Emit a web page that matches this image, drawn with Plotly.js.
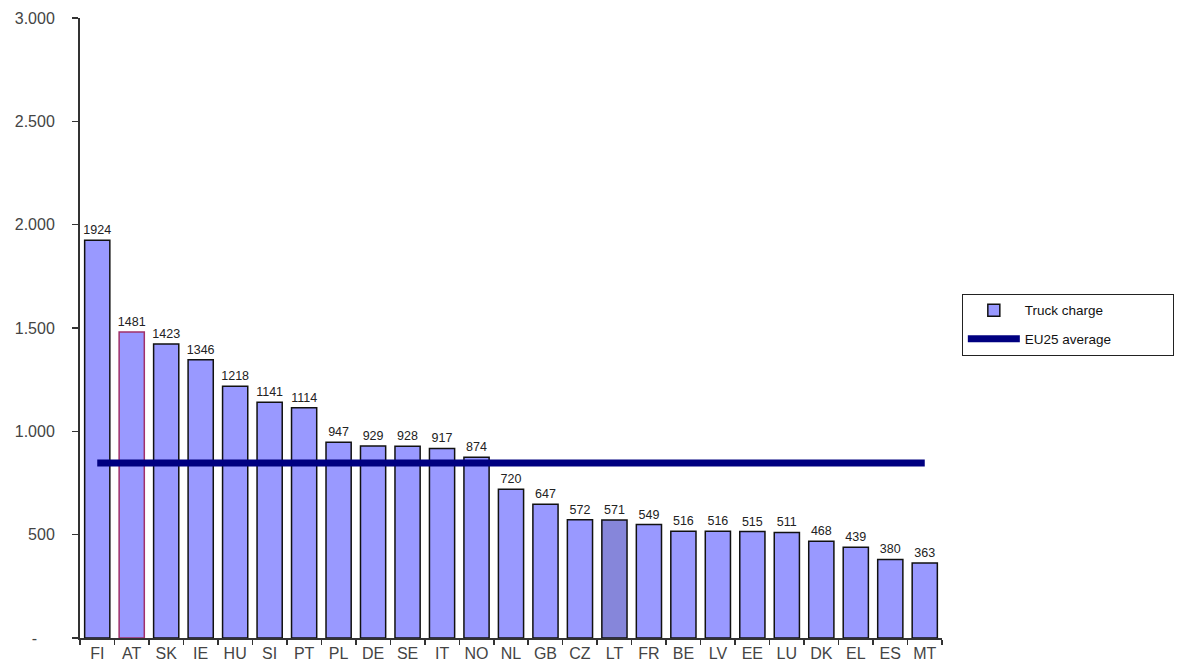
<!DOCTYPE html>
<html>
<head>
<meta charset="utf-8">
<script src="https://cdn.plot.ly/plotly-3.0.1.min.js"></script>
<style>
  html, body { margin: 0; padding: 0; background: #ffffff; }
  #chart { width: 1181px; height: 672px; }
</style>
</head>
<body>
<div id="chart"></div>
<script>
// Country codes, ordered by truck charge
const countries = ['FI','AT','SK','IE','HU','SI','PT','PL','DE','SE','IT','NO','NL',
                   'GB','CZ','LT','FR','BE','LV','EE','LU','DK','EL','ES','MT'];

// Truck charge per country
const truckCharge = [1924, 1481, 1423, 1346, 1218, 1141, 1114, 947, 929, 928, 917, 874, 720,
                     647, 572, 571, 549, 516, 516, 515, 511, 468, 439, 380, 363];

// EU25 average level
const eu25Average = 847;

// Y axis tick values
const yTicks = [0, 500, 1000, 1500, 2000, 2500, 3000];

// thousands separated with a dot, zero shown as a dash
function tickLabel(v) {
  if (v === 0) return '-\u00a0\u00a0\u00a0\u00a0';
  return String(v).replace(/\B(?=(\d{3})+(?!\d))/g, '.');
}

// trailing non-breaking spaces widen the legend box
const legendPad = '\u00a0'.repeat(15);

const fillColors = countries.map(c => c === 'LT' ? '#8686DA' : '#9999FF');
const lineColors = countries.map(c => c === 'AT' ? '#A0306A' : '#111111');

const bars = {
  type: 'bar',
  name: 'Truck charge' + legendPad,
  legendgroup: 'bars',
  x: countries,
  y: truckCharge,
  text: truckCharge.map(String),
  textposition: 'outside',
  constraintext: 'none',
  cliponaxis: false,
  textfont: { family: 'Liberation Sans, Arial, sans-serif', size: 12.5, color: '#222222' },
  marker: { color: fillColors, line: { color: lineColors, width: 1.5 } },
  hoverinfo: 'x+y'
};

const avgLine = {
  type: 'scatter',
  mode: 'lines',
  name: 'EU25 average' + legendPad,
  legendgroup: 'avg',
  x: [countries[0], countries[countries.length - 1]],
  y: [eu25Average, eu25Average],
  line: { color: '#000080', width: 7 },
  hoverinfo: 'y'
};

const layout = {
  width: 1181,
  height: 672,
  margin: { l: 80, r: 239, t: 18, b: 34, pad: 0, autoexpand: false },
  paper_bgcolor: '#ffffff',
  plot_bgcolor: '#ffffff',
  font: { family: 'Liberation Sans, Arial, sans-serif', color: '#333333' },
  bargap: 0.27,
  showlegend: true,
  legend: {
    x: 1.023, xanchor: 'left',
    y: 0.555, yanchor: 'top',
    bgcolor: '#ffffff',
    bordercolor: '#222222',
    borderwidth: 1,
    font: { family: 'Liberation Sans, Arial, sans-serif', size: 13.5, color: '#111111' },
    itemwidth: 52,
    traceorder: 'grouped',
    tracegroupgap: 8
  },
  xaxis: {
    type: 'category',
    categoryorder: 'array',
    categoryarray: countries,
    showline: true,
    linecolor: '#333333',
    linewidth: 1.5,
    ticks: 'outside',
    tickson: 'boundaries',
    ticklen: 5,
    tickwidth: 1.5,
    tickcolor: '#333333',
    showgrid: false,
    zeroline: false,
    tickfont: { size: 16, color: '#444444' },
    fixedrange: true
  },
  yaxis: {
    range: [0, 3000],
    tickmode: 'array',
    tickvals: yTicks,
    ticktext: yTicks.map(tickLabel),
    showline: true,
    linecolor: '#333333',
    linewidth: 2,
    ticks: 'outside',
    ticklen: 6,
    tickwidth: 1.5,
    tickcolor: '#333333',
    showgrid: false,
    zeroline: false,
    tickfont: { size: 16, color: '#444444' },
    ticklabelstandoff: 14,
    fixedrange: true
  }
};

Plotly.newPlot('chart', [bars, avgLine], layout, { displayModeBar: false, staticPlot: true });
</script>
</body>
</html>
